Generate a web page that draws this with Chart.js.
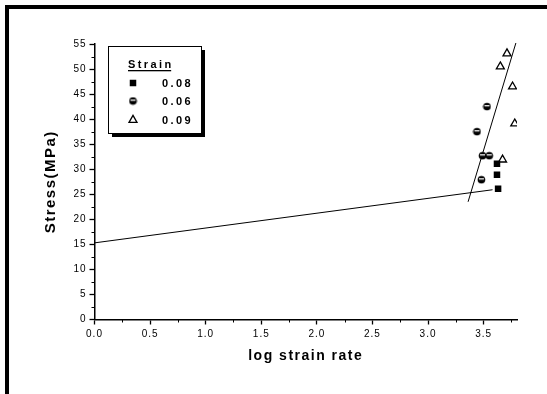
<!DOCTYPE html>
<html>
<head>
<meta charset="utf-8">
<script src="https://cdn.jsdelivr.net/npm/chart.js@4/dist/chart.umd.min.js"></script>
<style>
  html, body { margin: 0; padding: 0; background: #fff; }
  canvas { display: block; }
</style>
</head>
<body>
<canvas id="chart" width="547" height="394"></canvas>
<script>
// axis ticks
const xTicks = [0, 0.5, 1.0, 1.5, 2.0, 2.5, 3.0, 3.5];
const xMinorTicks = [0.25, 0.75, 1.25, 1.75, 2.25, 2.75, 3.25, 3.75];
const yTicks = [0, 5, 10, 15, 20, 25, 30, 35, 40, 45, 50, 55];
const yMinorTicks = [2.5, 7.5, 12.5, 17.5, 22.5, 27.5, 32.5, 37.5, 42.5, 47.5, 52.5];

// strain 0.08 (filled squares)
const s008X = [3.62, 3.62, 3.63];
const s008Y = [31.1, 28.9, 26.1];
// strain 0.06 (half filled circles)
const s006X = [3.53, 3.44, 3.49, 3.55, 3.48];
const s006Y = [42.5, 37.5, 32.7, 32.7, 27.9];
// strain 0.09 (open triangles)
const s009X = [3.71, 3.65, 3.76, 3.78, 3.67];
const s009Y = [53.1, 50.5, 46.5, 39.1, 31.9];

// the two fitted lines
const fitLowX = [0, 3.58];
const fitLowY = [15.3, 25.9];
const fitHighX = [3.36, 3.79];
const fitHighY = [23.5, 55.2];

const legendTitle = 'Strain';
const legendLabels = ['0.08', '0.06', '0.09'];

const pts = (xs, ys) => xs.map((x, i) => ({ x: x, y: ys[i] }));

function halfCircle() {
    const c = document.createElement('canvas');
    c.width = 9; c.height = 9;
    const g = c.getContext('2d');
    g.fillStyle = '#000';
    g.beginPath();
    g.arc(4.5, 4.5, 3.8, 0, Math.PI * 2);
    g.fill();
    g.fillStyle = '#fff';
    g.fillRect(2, 3, 5, 1.3);
    return c;
}
const circleImg = halfCircle();

const FONT = 'Liberation Sans, Arial, sans-serif';

const decor = {
    id: 'decor',
    beforeDraw(chart) {
        const ctx = chart.ctx;
        ctx.save();
        ctx.fillStyle = '#fff';
        ctx.fillRect(0, 0, chart.width, chart.height);
        ctx.fillStyle = '#000';
        ctx.fillRect(5, 5, 542, 4);
        ctx.fillRect(5, 5, 4, 389);
        ctx.restore();
        ctx.letterSpacing = '1.5px';
    },
    beforeDatasetsDraw(chart) {
        chart.ctx.letterSpacing = '1px';
    },
    afterDraw(chart) {
        const ctx = chart.ctx;
        const xs = chart.scales.x, ys = chart.scales.y;
        ctx.save();
        ctx.strokeStyle = '#000';
        ctx.lineWidth = 1;
        ctx.beginPath();
        for (const v of xMinorTicks) {
            const px = Math.round(xs.getPixelForValue(v)) + 0.5;
            ctx.moveTo(px, xs.top);
            ctx.lineTo(px, xs.top + 3);
        }
        for (const v of yMinorTicks) {
            const py = Math.round(ys.getPixelForValue(v)) + 0.5;
            ctx.moveTo(ys.right, py);
            ctx.lineTo(ys.right - 3, py);
        }
        ctx.stroke();

        // legend box with shadow
        ctx.fillStyle = '#fff';
        ctx.fillRect(108, 46, 93, 87);
        ctx.fillStyle = '#000';
        ctx.fillRect(112, 133, 93, 4);
        ctx.fillRect(201, 50, 4, 87);
        ctx.strokeRect(108.5, 46.5, 93, 87);

        ctx.letterSpacing = '2.4px';
        ctx.font = 'bold 11px ' + FONT;
        ctx.textBaseline = 'alphabetic';
        ctx.textAlign = 'left';
        ctx.fillText(legendTitle, 128, 68);
        const w = ctx.measureText(legendTitle).width - 2.4;
        ctx.fillRect(128, 70, w, 1.3);

        const rowY = [83, 101, 120];
        ctx.textBaseline = 'middle';
        for (let i = 0; i < 3; i++) {
            const ds = chart.data.datasets[i];
            ctx.fillStyle = ds.pointBackgroundColor;
            ctx.strokeStyle = ds.pointBorderColor;
            ctx.lineWidth = ds.pointBorderWidth;
            Chart.helpers.drawPoint(ctx, {
                pointStyle: ds.pointStyle, radius: ds.pointRadius, rotation: 0, borderWidth: ds.pointBorderWidth
            }, 133, rowY[i]);
            ctx.fillStyle = '#000';
            ctx.fillText(legendLabels[i], 162, rowY[i] + 1);
        }
        ctx.restore();
    }
};

new Chart(document.getElementById('chart'), {
    type: 'scatter',
    data: {
        datasets: [{
            label: legendLabels[0],
            data: pts(s008X, s008Y),
            pointStyle: 'rect',
            pointRadius: 4.6,
            pointBackgroundColor: '#000',
            pointBorderColor: '#000',
            pointBorderWidth: 0
        }, {
            label: legendLabels[1],
            data: pts(s006X, s006Y),
            pointStyle: circleImg,
            pointRadius: 4.5,
            pointBackgroundColor: '#000',
            pointBorderColor: '#000',
            pointBorderWidth: 0
        }, {
            label: legendLabels[2],
            data: pts(s009X, s009Y),
            pointStyle: 'triangle',
            pointRadius: 4.6,
            pointBackgroundColor: '#fff',
            pointBorderColor: '#000',
            pointBorderWidth: 1.3
        }, {
            label: 'fit low',
            type: 'line',
            data: pts(fitLowX, fitLowY),
            borderColor: '#000',
            borderWidth: 1,
            pointRadius: 0,
            fill: false
        }, {
            label: 'fit high',
            type: 'line',
            data: pts(fitHighX, fitHighY),
            borderColor: '#000',
            borderWidth: 1,
            pointRadius: 0,
            fill: false,
            clip: false
        }]
    },
    options: {
        responsive: false,
        animation: false,
        devicePixelRatio: 1,
        layout: { padding: { left: 36, top: 44, right: 30, bottom: 20 } },
        plugins: { legend: { display: false }, tooltip: { enabled: false } },
        scales: {
            x: {
                type: 'linear',
                min: 0,
                max: 3.8,
                afterBuildTicks: s => { s.ticks = xTicks.map(v => ({ value: v })); },
                afterFit: s => { s.height = 54.5; },
                ticks: {
                    callback: v => Number(v).toFixed(1),
                    font: { family: FONT, size: 10 },
                    color: '#000',
                    padding: 4,
                    maxRotation: 0,
                    autoSkip: false,
                    z: 1
                },
                grid: { drawOnChartArea: false, drawTicks: true, tickLength: 5, color: '#000', tickWidth: 1.3 },
                border: { display: true, color: '#000', width: 1.5 },
                title: {
                    display: true,
                    text: 'log strain rate',
                    color: '#000',
                    font: { family: FONT, size: 14, weight: 'bold' },
                    padding: { top: 0, bottom: 9 }
                }
            },
            y: {
                type: 'linear',
                min: 0,
                max: 55,
                afterBuildTicks: s => { s.ticks = yTicks.map(v => ({ value: v })); },
                afterFit: s => { s.width = 58.5; },
                ticks: {
                    font: { family: FONT, size: 10 },
                    color: '#000',
                    padding: 3,
                    z: 1
                },
                grid: { drawOnChartArea: false, drawTicks: true, tickLength: 5, color: '#000', tickWidth: 1.3 },
                border: { display: true, color: '#000', width: 1.5 },
                title: {
                    display: true,
                    text: 'Stress(MPa)',
                    color: '#000',
                    font: { family: FONT, size: 15, weight: 'bold' },
                    padding: { top: 6, bottom: 0 }
                }
            }
        }
    },
    plugins: [decor]
});
</script>
</body>
</html>
